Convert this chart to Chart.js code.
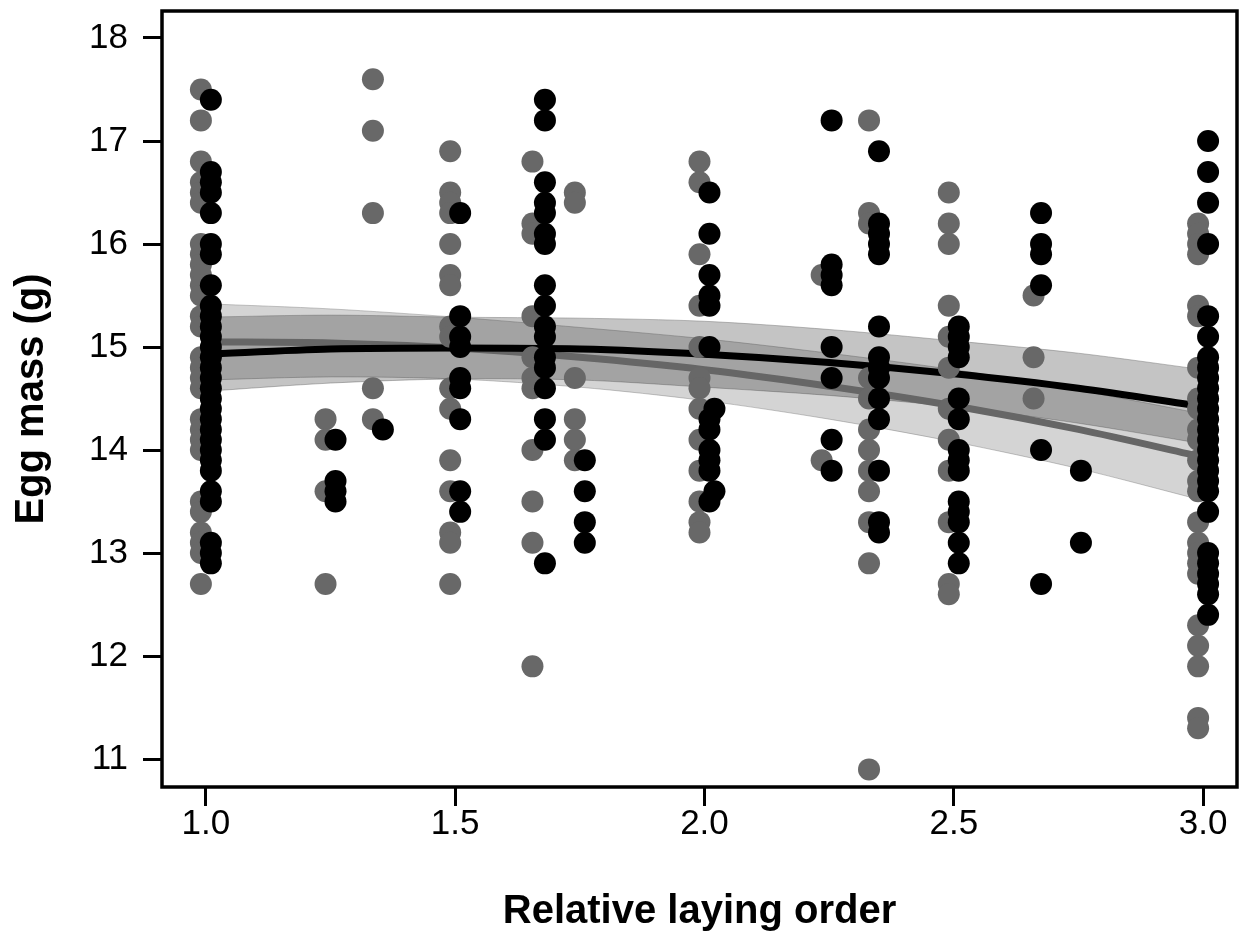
<!DOCTYPE html>
<html>
<head>
<meta charset="utf-8">
<script src="https://cdn.jsdelivr.net/npm/chart.js@4.4.1/dist/chart.umd.min.js"></script>
<style>
  html, body { margin: 0; padding: 0; background: #ffffff; }
  canvas { display: block; }
</style>
</head>
<body>
<canvas id="c" width="1248" height="944"></canvas>
<script>
// ---------- DATA ----------
const xTicks = [1.0, 1.5, 2.0, 2.5, 3.0];
const yTicks = [11, 12, 13, 14, 15, 16, 17, 18];

// grey group: relative laying order of each column and egg masses in it
const greyOrder = [0.99, 1.24, 1.335, 1.49, 1.655, 1.74, 1.99, 2.235, 2.33, 2.49, 2.66, 2.99];
const greyMass = [
  [17.5, 17.2, 16.8, 16.6, 16.5, 16.4, 16.0, 15.9, 15.8, 15.7, 15.6, 15.5, 15.3, 15.2, 14.9, 14.8, 14.7, 14.6, 14.3, 14.2, 14.1, 14.0, 13.5, 13.4, 13.2, 13.1, 13.0, 12.7],
  [14.3, 14.1, 13.6, 12.7],
  [17.6, 17.1, 16.3, 14.6, 14.3],
  [16.9, 16.5, 16.4, 16.3, 16.0, 15.7, 15.6, 15.2, 15.1, 14.6, 14.4, 13.9, 13.6, 13.2, 13.1, 12.7],
  [16.8, 16.2, 16.1, 15.3, 14.9, 14.7, 14.6, 14.0, 13.5, 13.1, 11.9],
  [16.5, 16.4, 14.7, 14.3, 14.1, 13.9],
  [16.8, 16.6, 15.9, 15.4, 15.0, 14.7, 14.6, 14.4, 14.1, 13.8, 13.5, 13.3, 13.2],
  [15.7, 13.9],
  [17.2, 16.3, 16.2, 14.7, 14.5, 14.2, 14.0, 13.8, 13.6, 13.3, 12.9, 10.9],
  [16.5, 16.2, 16.0, 15.4, 15.1, 14.8, 14.4, 14.1, 13.8, 13.3, 12.7, 12.6],
  [15.5, 14.9, 14.5],
  [16.2, 16.1, 16.0, 15.9, 15.4, 15.3, 14.8, 14.5, 14.4, 14.2, 14.1, 13.9, 13.7, 13.6, 13.3, 13.1, 13.0, 12.9, 12.8, 12.3, 12.1, 11.9, 11.4, 11.3]
];

// black group
const blackOrder = [1.01, 1.26, 1.355, 1.51, 1.68, 1.76, 2.01, 2.02, 2.255, 2.35, 2.51, 2.675, 2.755, 3.01];
const blackMass = [
  [17.4, 16.7, 16.6, 16.5, 16.3, 16.0, 15.9, 15.6, 15.4, 15.3, 15.2, 15.1, 15.0, 14.9, 14.8, 14.7, 14.6, 14.5, 14.4, 14.3, 14.2, 14.1, 14.0, 13.9, 13.8, 13.6, 13.5, 13.1, 13.0, 12.9],
  [14.1, 13.7, 13.6, 13.5],
  [14.2],
  [16.3, 15.3, 15.1, 15.0, 14.7, 14.6, 14.3, 13.6, 13.4],
  [17.4, 17.2, 16.6, 16.4, 16.3, 16.1, 16.0, 15.6, 15.4, 15.2, 15.1, 14.9, 14.8, 14.6, 14.3, 14.1, 12.9],
  [13.9, 13.6, 13.3, 13.1],
  [16.5, 16.1, 15.7, 15.5, 15.4, 15.0, 14.3, 14.2, 14.0, 13.9, 13.8, 13.5],
  [14.4, 13.6],
  [17.2, 15.8, 15.7, 15.6, 15.0, 14.7, 14.1, 13.8],
  [16.9, 16.2, 16.1, 16.0, 15.9, 15.2, 14.9, 14.8, 14.7, 14.5, 14.3, 13.8, 13.3, 13.2],
  [15.2, 15.1, 15.0, 14.9, 14.5, 14.3, 14.0, 13.9, 13.8, 13.5, 13.4, 13.3, 13.1, 12.9],
  [16.3, 16.0, 15.9, 15.6, 14.0, 12.7],
  [13.8, 13.1],
  [17.0, 16.7, 16.4, 16.0, 15.3, 15.1, 14.9, 14.8, 14.7, 14.6, 14.5, 14.4, 14.3, 14.2, 14.1, 14.0, 13.9, 13.8, 13.7, 13.6, 13.4, 13.0, 12.9, 12.8, 12.7, 12.6, 12.4]
];

// fitted curves and confidence bands
const fitOrder   = [1.0, 1.25, 1.5, 1.75, 2.0, 2.25, 2.5, 2.75, 3.0];
const blackFit   = [14.93, 14.98, 14.99, 14.98, 14.93, 14.85, 14.74, 14.60, 14.42];
const blackUpper = [15.29, 15.31, 15.29, 15.28, 15.25, 15.17, 15.06, 14.94, 14.78];
const blackLower = [14.57, 14.65, 14.69, 14.68, 14.61, 14.53, 14.42, 14.26, 14.06];
const greyFit    = [15.05, 15.04, 14.99, 14.90, 14.78, 14.62, 14.43, 14.20, 13.93];
const greyUpper  = [15.42, 15.37, 15.29, 15.19, 15.08, 14.94, 14.78, 14.58, 14.35];
const greyLower  = [14.68, 14.71, 14.69, 14.61, 14.48, 14.30, 14.08, 13.82, 13.51];

// ---------- build chart ----------
function columnsToPoints(xs, ys) {
  const pts = [];
  xs.forEach((x, i) => ys[i].forEach(y => pts.push({ x: x, y: y })));
  return pts;
}
function curve(xs, ys) { return xs.map((x, i) => ({ x: x, y: ys[i] })); }

const FONT = '"Liberation Sans", Arial, Helvetica, sans-serif';

const boxPlugin = {
  id: 'box',
  afterDatasetsDraw(chart) {
    const a = chart.chartArea, ctx = chart.ctx;
    ctx.save();
    ctx.strokeStyle = '#000';
    ctx.lineWidth = 3.5;
    ctx.strokeRect(a.left, a.top, a.right - a.left, a.bottom - a.top);
    ctx.restore();
  }
};

const bandLine = { pointRadius: 0, borderWidth: 1, showLine: true, tension: 0.3 };

new Chart(document.getElementById('c'), {
  type: 'scatter',
  data: {
    datasets: [
      { data: columnsToPoints(blackOrder, blackMass), backgroundColor: '#000000', borderWidth: 0, pointRadius: 11, order: 0 },
      { data: columnsToPoints(greyOrder, greyMass), backgroundColor: '#686868', borderWidth: 0, pointRadius: 11, order: 1 },
      { data: curve(fitOrder, blackFit), showLine: true, borderColor: '#000000', borderWidth: 7, pointRadius: 0, tension: 0.3, order: 2 },
      { data: curve(fitOrder, greyFit), showLine: true, borderColor: '#666666', borderWidth: 7, pointRadius: 0, tension: 0.3, order: 3 },
      Object.assign({ data: curve(fitOrder, blackUpper), borderColor: 'rgba(110,110,110,0.45)', backgroundColor: 'rgba(0,0,0,0.23)', fill: 5, order: 4 }, bandLine),
      Object.assign({ data: curve(fitOrder, blackLower), borderColor: 'rgba(110,110,110,0.45)', fill: false, order: 5 }, bandLine),
      Object.assign({ data: curve(fitOrder, greyUpper), borderColor: 'rgba(130,130,130,0.45)', backgroundColor: 'rgba(102,102,102,0.28)', fill: 7, order: 6 }, bandLine),
      Object.assign({ data: curve(fitOrder, greyLower), borderColor: 'rgba(130,130,130,0.45)', fill: false, order: 7 }, bandLine)
    ]
  },
  options: {
    responsive: false,
    animation: false,
    events: [],
    layout: { padding: { left: 0, top: 10, right: 8, bottom: 0 } },
    plugins: { legend: { display: false }, tooltip: { enabled: false } },
    scales: {
      x: {
        type: 'linear',
        min: 0.912, max: 3.068,
        afterBuildTicks: s => { s.ticks = xTicks.map(v => ({ value: v })); },
        afterFit: s => { s.height = 157; s.paddingLeft = 0; s.paddingRight = 0; },
        grid: { display: true, drawOnChartArea: false, drawTicks: true, tickLength: 19, tickWidth: 3, tickColor: '#000' },
        border: { display: false },
        ticks: { color: '#000', font: { family: FONT, size: 35 }, padding: -3, maxRotation: 0, callback: v => Number(v).toFixed(1) },
        title: { display: true, text: 'Relative laying order', color: '#000', font: { family: FONT, size: 40, weight: 'bold' }, padding: { top: 0, bottom: 8 } }
      },
      y: {
        type: 'linear',
        min: 10.729, max: 18.262,
        afterBuildTicks: s => { s.ticks = yTicks.map(v => ({ value: v })); },
        afterFit: s => { s.width = 162; s.paddingTop = 0; s.paddingBottom = 0; },
        grid: { display: true, drawOnChartArea: false, drawTicks: true, tickLength: 19, tickWidth: 3, tickColor: '#000' },
        border: { display: false },
        ticks: { color: '#000', font: { family: FONT, size: 35 }, padding: 15, callback: v => String(v) },
        title: { display: true, text: 'Egg mass (g)', color: '#000', font: { family: FONT, size: 40, weight: 'bold' }, padding: { top: 8, bottom: 0 } }
      }
    }
  },
  plugins: [boxPlugin]
});
</script>
</body>
</html>
